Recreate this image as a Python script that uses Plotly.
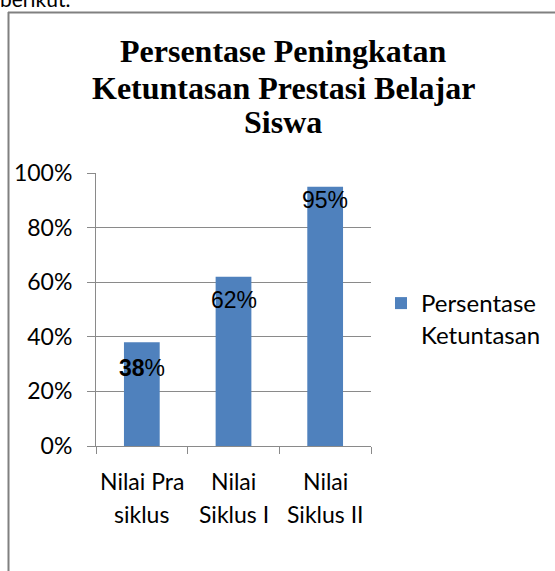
import plotly.graph_objects as go

cat_line1 = ["Nilai Pra", "Nilai", "Nilai"]
cat_line2 = ["siklus", "Siklus I", "Siklus II"]
categories = [a + " " + b for a, b in zip(cat_line1, cat_line2)]
values = [38, 62, 95]
label_texts = ["<b>38</b>%", "62%", "95%"]
series_name = "Persentase<br>Ketuntasan"
y_ticks = [0, 20, 40, 60, 80, 100]
y_tick_labels = ["0%", "20%", "40%", "60%", "80%", "100%"]
title_lines = ["Persentase Peningkatan", "Ketuntasan Prestasi Belajar", "Siswa"]
label_offsets = [-26, -23, -13]

W, H = 555, 571
L, R, T, B = 96, 184, 173, 125
pw, ph = W - L - R, H - T - B

def px_x(p):
    return (p - L) / pw

def px_y(p):
    return (H - B - p) / ph

SANS = "Lato, Carlito, Calibri, sans-serif"

fig = go.Figure()
fig.add_trace(go.Bar(
    x=categories, y=values, name=series_name,
    marker=dict(color="#4F81BD", line=dict(width=0)),
    width=0.39, showlegend=True, hoverinfo="skip",
))

for c, v, t, off in zip(categories, values, label_texts, label_offsets):
    fig.add_annotation(x=c, y=v, text=t, showarrow=False, yanchor="middle", yshift=off,
                       font=dict(family="Liberation Sans, Arial", size=23, color="black"))

for c, a, b in zip(categories, cat_line1, cat_line2):
    fig.add_annotation(x=c, y=px_y(481), yref="paper", text=a, showarrow=False, yanchor="middle",
                       font=dict(family=SANS, size=23, color="black"))
    fig.add_annotation(x=c, y=px_y(514), yref="paper", text=b, showarrow=False, yanchor="middle",
                       font=dict(family=SANS, size=23, color="black"))

for line, yc in zip(title_lines, [51, 88, 122]):
    fig.add_annotation(x=px_x(283), y=px_y(yc), xref="paper", yref="paper", text="<b>" + line + "</b>",
                       showarrow=False, xanchor="center", yanchor="middle",
                       font=dict(family="Liberation Serif, Times New Roman, serif", size=32, color="black"))

fig.add_annotation(x=px_x(-2), y=px_y(13), xref="paper", yref="paper", text="berikut.",
                   showarrow=False, xanchor="left", yanchor="bottom",
                   font=dict(family=SANS, size=21, color="black"))

# document frame
fig.add_shape(type="line", xref="paper", yref="paper", x0=px_x(8), x1=px_x(560), y0=px_y(12.5), y1=px_y(12.5),
              line=dict(color="#808080", width=2))
fig.add_shape(type="line", xref="paper", yref="paper", x0=px_x(8.5), x1=px_x(8.5), y0=px_y(12), y1=px_y(580),
              line=dict(color="#808080", width=2))

fig.update_layout(
    width=W, height=H,
    margin=dict(l=L, r=R, t=T, b=B, autoexpand=False),
    paper_bgcolor="white", plot_bgcolor="white",
    font=dict(family=SANS, size=22, color="black"),
    legend=dict(x=px_x(381), y=px_y(281), xanchor="left", yanchor="top",
                font=dict(size=24), itemwidth=30, valign="top",
                bgcolor="rgba(0,0,0,0)"),
    showlegend=True,
)
fig.update_xaxes(
    showline=True, linecolor="#8a8a8a", linewidth=1,
    ticks="outside", tickson="boundaries", ticklen=7, tickcolor="#8a8a8a",
    showgrid=False, showticklabels=False,
)
fig.update_yaxes(
    range=[0, 100], tickvals=y_ticks, ticktext=y_tick_labels,
    showline=True, linecolor="#8a8a8a", linewidth=1,
    ticks="outside", ticklen=8, tickcolor="#8a8a8a",
    showgrid=True, gridcolor="#8a8a8a", gridwidth=1,
    zeroline=False, tickfont=dict(size=23), ticklabelstandoff=10,
)

fig.write_html("out.html", config={"displayModeBar": False},
               post_script="document.body.style.margin='0';document.body.style.overflow='hidden';")
